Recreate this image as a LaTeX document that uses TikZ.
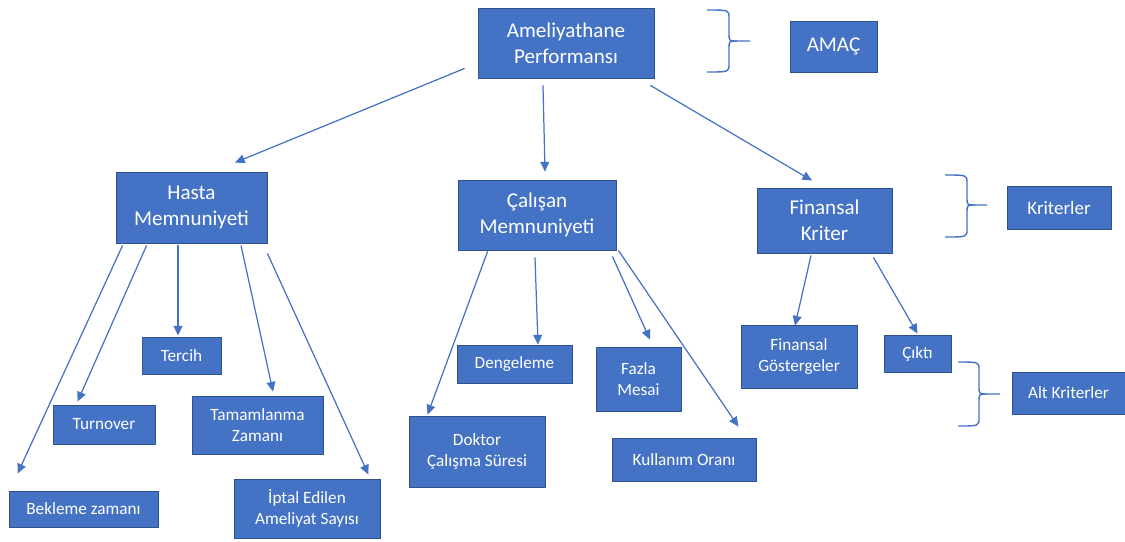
\documentclass[tikz,border=0pt]{standalone}
\usepackage{fontspec}
\setmainfont{Carlito}
\usetikzlibrary{arrows.meta}
\definecolor{ofis}{HTML}{4472C4}
\definecolor{kenar}{HTML}{2F528F}
\tikzset{
    kutu/.style = {rectangle, draw=kenar, line width=0.5pt, fill=ofis, text=white, align=center, inner sep=0pt},
    buyuk/.style = {kutu, font=\fontsize{12}{15}\selectfont},
    kucuk/.style = {kutu, font=\fontsize{9.8}{12.3}\selectfont},
    ok/.style = {-{Triangle[length=5.5pt,width=5pt]}, draw=ofis, line width=0.7pt},
    parantez/.style = {draw=ofis, line width=0.8pt}
}
\begin{document}
\begin{tikzpicture}[x=0.02cm,y=-0.02cm]
\useasboundingbox (0,0) rectangle (1125,541);
% ust seviye
\node[buyuk, minimum width=3.52cm, minimum height=1.40cm] at (566,43) (amel) {Ameliyathane\\Performansı};
\node[buyuk, minimum width=1.74cm, minimum height=1.02cm] at (833.5,46.5) (amac) {AMAÇ};
% kriterler
\node[buyuk, minimum width=3.02cm, minimum height=1.42cm] at (191.5,207.5) (hasta) {Hasta\\Memnuniyeti};
\node[buyuk, minimum width=3.16cm, minimum height=1.40cm] at (537,215) (calisan) {Çalışan\\Memnuniyeti};
\node[buyuk, minimum width=2.70cm, minimum height=1.30cm] at (824.5,220.5) (finansal) {Finansal\\Kriter};
\node[kutu, font=\fontsize{10.8}{13}\selectfont, minimum width=2.08cm, minimum height=0.86cm] at (1059,207.5) (kriter) {Kriterler};
% alt kriterler
\node[kucuk, minimum width=1.58cm, minimum height=0.74cm] at (181.5,355.5) (tercih) {Tercih};
\node[kucuk, minimum width=2.04cm, minimum height=0.78cm] at (104,424.5) (turnover) {Turnover};
\node[kucuk, minimum width=2.98cm, minimum height=0.72cm] at (83.5,509) (bekleme) {Bekleme zamanı};
\node[kucuk, minimum width=2.62cm, minimum height=1.16cm] at (257.5,425) (tamam) {Tamamlanma\\Zamanı};
\node[kucuk, minimum width=2.92cm, minimum height=1.18cm] at (307,508.5) (iptal) {İptal Edilen\\Ameliyat Sayısı};
\node[kucuk, minimum width=2.30cm, minimum height=0.76cm] at (514.5,364) (denge) {Dengeleme};
\node[kucuk, minimum width=1.70cm, minimum height=1.28cm] at (638.5,379) (fazla) {Fazla\\Mesai};
\node[kucuk, minimum width=2.72cm, minimum height=1.42cm] at (477,451.5) (doktor) {Doktor\\Çalışma Süresi};
\node[kucuk, minimum width=2.88cm, minimum height=0.86cm] at (684,459.5) (kullanim) {Kullanım Oranı};
\node[kucuk, minimum width=2.32cm, minimum height=1.26cm] at (799,356.5) (gosterge) {Finansal\\Göstergeler};
\node[kucuk, minimum width=1.34cm, minimum height=0.74cm] at (917.5,353.5) (cikti) {Çıktı};
\node[kucuk, minimum width=2.26cm, minimum height=0.84cm] at (1068.5,393) (alt) {Alt Kriterler};
%
\draw[ok] ([shift={(-13,-10)}]amel.south west) -- ([shift={(43.5,-9)}]hasta.north);
\draw[ok] ([shift={(-23,7)}]amel.south) -- ([shift={(8,-8)}]calisan.north);
\draw[ok] ([shift={(-4,7)}]amel.south east) -- ([shift={(-12.5,-7)}]finansal.north);
%
\draw[ok] ([shift={(7,2)}]hasta.south west) -- ([shift={(9,-17)}]bekleme.north west);
\draw[ok] ([shift={(31,2)}]hasta.south west) -- ([shift={(25,-3)}]turnover.north west);
\draw[ok] ([shift={(-13.5,2)}]hasta.south) -- ([shift={(-3.5,-1)}]tercih.north);
\draw[ok] ([shift={(49.5,2)}]hasta.south) -- ([shift={(15.5,-4)}]tamam.north);
\draw[ok] ([shift={(0,10)}]hasta.south east) -- ([shift={(-12,-4)}]iptal.north east);
%
\draw[ok] ([shift={(30,1)}]calisan.south west) -- ([shift={(19,-1)}]doktor.north west);
\draw[ok] ([shift={(-2,7)}]calisan.south) -- ([shift={(23.5,0)}]denge.north);
\draw[ok] ([shift={(-4,6)}]calisan.south east) -- ([shift={(11.5,-7)}]fazla.north);
\draw[ok] ([shift={(2,0)}]calisan.south east) -- ([shift={(-18,-11)}]kullanim.north east);
%
\draw[ok] ([shift={(-13.5,2)}]finansal.south) -- ([shift={(-4,1)}]gosterge.north);
\draw[ok] ([shift={(-19,4)}]finansal.south east) -- ([shift={(0,-1)}]cikti.north);
% parantezler
\draw[parantez] (707,10) .. controls (729,10) .. (729,18) -- (729,33) .. controls (729,41) .. (737,41) -- (750,41);
\draw[parantez] (707,72) .. controls (729,72) .. (729,64) -- (729,49) .. controls (729,41) .. (737,41);
\draw[parantez] (945,175) .. controls (967,175) .. (967,183) -- (967,197) .. controls (967,205) .. (975,205) -- (987,205);
\draw[parantez] (945,237) .. controls (967,237) .. (967,229) -- (967,213) .. controls (967,205) .. (975,205);
\draw[parantez] (958,362) .. controls (979,362) .. (979,370) -- (979,386) .. controls (979,394) .. (987,394) -- (1000,394);
\draw[parantez] (958,426) .. controls (979,426) .. (979,418) -- (979,402) .. controls (979,394) .. (987,394);
\end{tikzpicture}
\end{document}
